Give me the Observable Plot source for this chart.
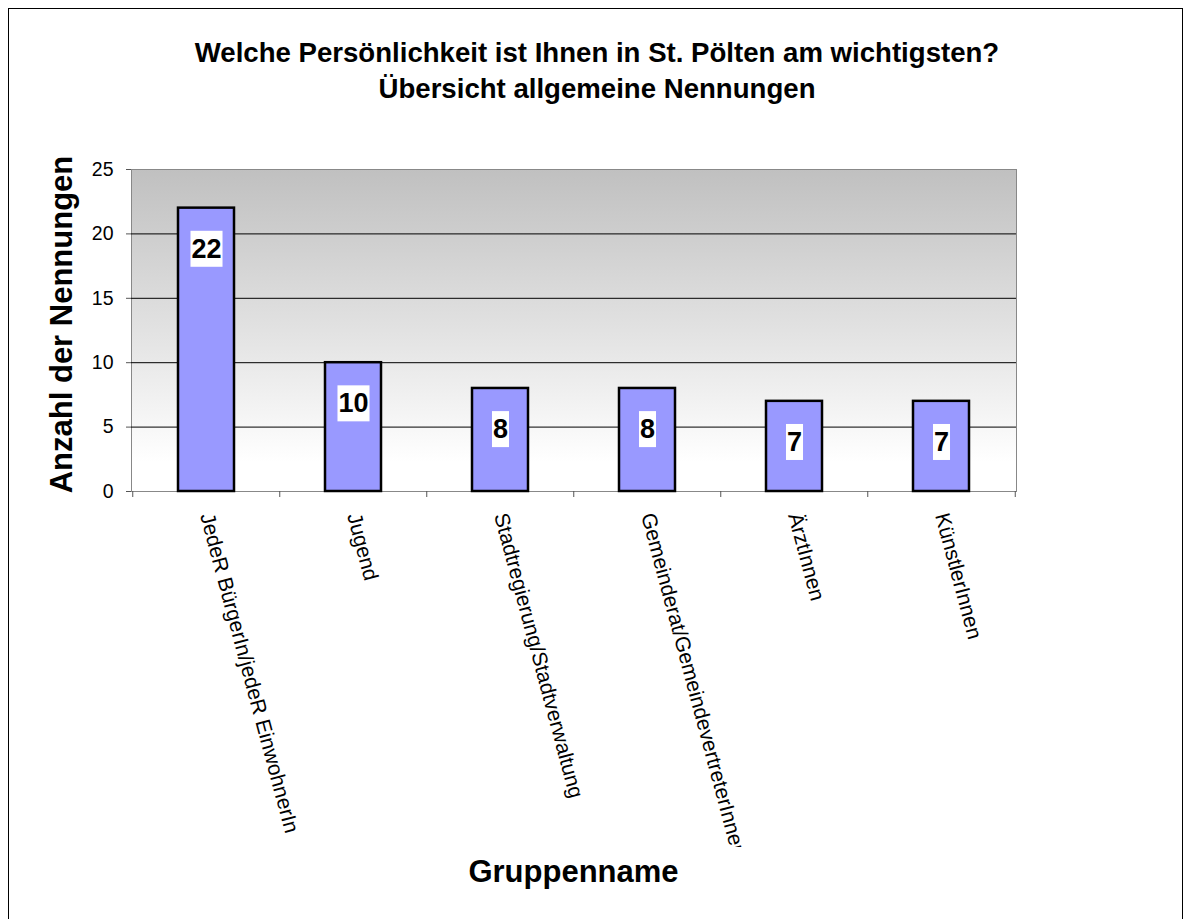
<!DOCTYPE html>
<html>
<head>
<meta charset="utf-8">
<script src="https://cdn.jsdelivr.net/npm/d3@7"></script>
<script src="https://cdn.jsdelivr.net/npm/@observablehq/plot@0.6"></script>
<style>
  html, body { margin: 0; padding: 0; background: #fff; }
  body { width: 1190px; height: 919px; position: relative; overflow: hidden;
         font-family: Arial, "Liberation Sans", sans-serif; color: #000; }
  #border { position: absolute; left: 8px; top: 8px; width: 1175px; height: 940px;
            border: 1px solid #000; box-sizing: border-box; }
  #title { position: absolute; left: 2px; top: 35px; width: 1190px; text-align: center;
           font-weight: bold; font-size: 27.6px; line-height: 36px; }
  #chart { position: absolute; left: 0; top: 0; }
  #xtitle { position: absolute; left: 131px; width: 885px; top: 857px; text-align: center;
            font-weight: bold; font-size: 31px; line-height: 30px; }
</style>
</head>
<body>
<div id="border"></div>
<div id="chart"></div>
<div id="title">Welche Persönlichkeit ist Ihnen in St. Pölten am wichtigsten?<br>Übersicht allgemeine Nennungen</div>
<div id="xtitle">Gruppenname</div>
<script>
const groups = [
  "JedeR BürgerIn/jedeR EinwohnerIn",
  "Jugend",
  "Stadtregierung/Stadtverwaltung",
  "Gemeinderat/GemeindevertreterInnen",
  "ÄrztInnen",
  "KünstlerInnen"
];
const counts = [22, 10, 8, 8, 7, 7];
const yTicks = [0, 5, 10, 15, 20, 25];
const yTitle = "Anzahl der Nennungen";

const data = groups.map((g, i) => ({ group: g, count: counts[i] }));

const W = 1190, H = 847, mL = 131, mR = 174, mT = 169, mB = 356;
const step = (W - mL - mR) / groups.length;
const FONT = 'Arial, "Liberation Sans", sans-serif';

const plot = Plot.plot({
  width: W, height: H,
  marginLeft: mL, marginRight: mR, marginTop: mT, marginBottom: mB,
  style: { fontFamily: FONT, fontSize: "19px", color: "#000", background: "transparent", overflow: "hidden" },
  x: { domain: groups, paddingInner: 0.62, paddingOuter: 0.31, label: null },
  y: { domain: [0, 25], label: null },
  marks: [
    Plot.frame({ fill: "url(#bgGrad)", stroke: "#888" }),
    Plot.ruleY(yTicks.filter(v => v > 0 && v < 25), { stroke: "#000", strokeWidth: 1 }),
    Plot.barY(data, { x: "group", y: "count", fill: "#9999ff", stroke: "#000", strokeWidth: 2.5 }),
    Plot.ruleX(groups, { x: d => d, y1: 0, y2: 0, dx: -step / 2, insetBottom: -6, stroke: "#555" }),
    Plot.ruleX(groups.slice(-1), { x: d => d, y1: 0, y2: 0, dx: step / 2, insetBottom: -6, stroke: "#555" }),
    Plot.axisX({ tickSize: 0, tickPadding: 22, tickRotate: 75, fontSize: 21, label: null }),
    Plot.axisY({ ticks: yTicks, tickSize: 5, tickPadding: 13, fontSize: 19.5, label: null, stroke: "#555" }),
    Plot.text([yTitle], { text: d => d, frameAnchor: "left", textAnchor: "middle", lineAnchor: "middle",
                          rotate: -90, dx: -69, dy: -6,
                          fontSize: 31, fontWeight: "bold", fill: "#000" }),
    Plot.text(data, { x: "group", y: "count", text: d => String(d.count), dy: 41,
                      fontSize: 27, fontWeight: "bold", fill: "#000", ariaLabel: "value-label" })
  ]
});

document.getElementById("chart").appendChild(plot);

const svg = plot.tagName.toLowerCase() === "svg" ? plot : plot.querySelector("svg");
svg.style.overflow = "hidden";
const ns = "http://www.w3.org/2000/svg";
const defs = document.createElementNS(ns, "defs");
defs.innerHTML = '<linearGradient id="bgGrad" x1="0" y1="0" x2="0" y2="1">' +
  '<stop offset="0" stop-color="#c0c0c0"/><stop offset="0.5" stop-color="#e2e2e2"/>' +
  '<stop offset="0.91" stop-color="#ffffff"/></linearGradient>';
svg.insertBefore(defs, svg.firstChild);

// white boxes behind the value labels
const labelSet = new Set(counts.map(String));
svg.querySelectorAll('g[aria-label="text"]').forEach(g => {
  const texts = Array.from(g.querySelectorAll("text"));
  if (texts.length !== data.length || !texts.every(t => labelSet.has(t.textContent))) return;
  texts.forEach(t => {
    const b = t.getBBox();
    const r = document.createElementNS(ns, "rect");
    r.setAttribute("x", b.x - 1);
    r.setAttribute("y", b.y - 3);
    r.setAttribute("width", b.width + 2);
    r.setAttribute("height", b.height + 6);
    r.setAttribute("fill", "#fff");
    if (t.getAttribute("transform")) r.setAttribute("transform", t.getAttribute("transform"));
    g.insertBefore(r, t);
  });
});
</script>
</body>
</html>
